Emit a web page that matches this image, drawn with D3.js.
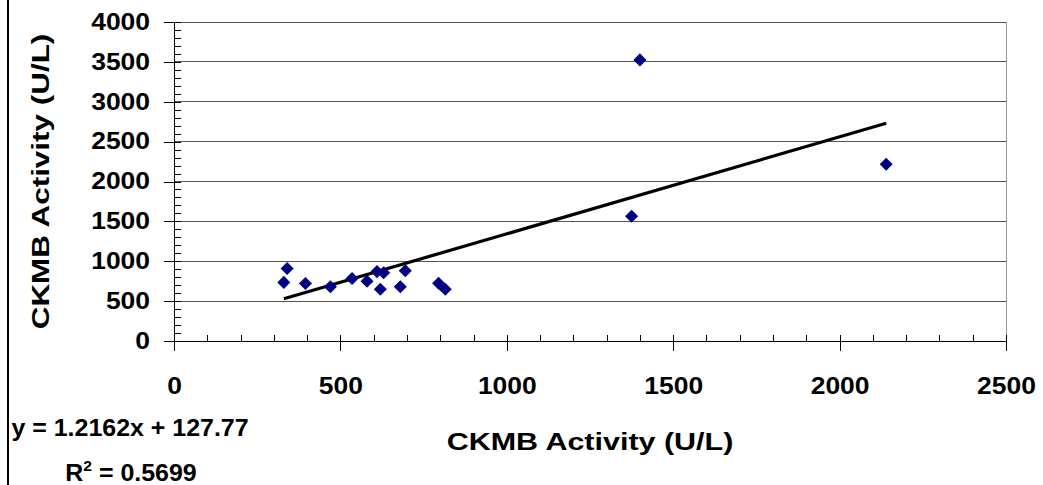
<!DOCTYPE html>
<html>
<head>
    <title></title>
    <style>
        body { margin: 0; background: #fff; }
        text { font-family: "Liberation Sans", Arial, sans-serif; font-weight: bold; fill: #000; }
    </style>
</head>
<body>
<script src="https://d3js.org/d3.v7.min.js"></script>
<script type="text/javascript">

    var ckmbX = [340, 330, 395, 470, 535, 580, 610, 630, 620, 680, 695, 795, 815, 1375, 1400, 2140];
    var ckmbY = [910, 735, 720, 680, 785, 750, 870, 855, 650, 680, 880, 725, 650, 1565, 3525, 2215];
    var xTicks = [0, 500, 1000, 1500, 2000, 2500];
    var yTicks = [0, 500, 1000, 1500, 2000, 2500, 3000, 3500, 4000];
    var slope = 1.2162;
    var intercept = 127.77;
    var equationText = 'y = 1.2162x + 127.77';
    var r2Text = '0.5699';
    var axisTitle = 'CKMB Activity (U/L)';

    var widthCanvas = 1043;
    var heightCanvas = 485;

    var xScale = d3.scaleLinear()
                    .domain([0, 2500])
                    .range([174, 1006]);

    var yScale = d3.scaleLinear()
                    .domain([0, 4000])
                    .range([341, 22]);

    var canvas = d3.select('body')
                    .append('svg')
                        .attr('width', widthCanvas)
                        .attr('height', heightCanvas);

    // left frame edge
    canvas.append('line')
            .attr('x1', 8).attr('x2', 8)
            .attr('y1', 0).attr('y2', heightCanvas)
            .attr('stroke', '#000')
            .attr('stroke-width', 2);

    // gridlines
    canvas.selectAll('.grid')
            .data(yTicks.filter(function(d) { return d > 0; }))
            .enter()
            .append('line')
                .attr('class', 'grid')
                .attr('x1', xScale(0))
                .attr('x2', xScale(2500))
                .attr('y1', function(d) { return yScale(d); })
                .attr('y2', function(d) { return yScale(d); })
                .attr('stroke', '#555')
                .attr('stroke-width', 1)
                .attr('shape-rendering', 'crispEdges');

    canvas.append('line')
            .attr('x1', xScale(2500)).attr('x2', xScale(2500))
            .attr('y1', yScale(4000)).attr('y2', yScale(0))
            .attr('stroke', '#999')
            .attr('shape-rendering', 'crispEdges');

    // minor ticks
    canvas.append('g')
            .attr('transform', 'translate(' + xScale(0) + ',0)')
            .call(d3.axisLeft(yScale).tickValues(d3.range(0, 4001, 100)).tickSize(-7).tickFormat(''))
            .call(function(g) { g.select('.domain').remove(); })
            .attr('shape-rendering', 'crispEdges');

    canvas.append('g')
            .attr('transform', 'translate(0,' + yScale(0) + ')')
            .call(d3.axisBottom(xScale).tickValues(d3.range(0, 2501, 100)).tickSize(-6).tickFormat(''))
            .call(function(g) { g.select('.domain').remove(); })
            .attr('shape-rendering', 'crispEdges');

    // major axes
    var tickScale = 1.15;

    var yAxis = canvas.append('g')
                    .attr('transform', 'translate(' + xScale(0) + ',0)')
                    .call(d3.axisLeft(yScale).tickValues(yTicks).tickFormat(d3.format('d'))
                            .tickSizeInner(10).tickSizeOuter(0).tickPadding(14))
                    .attr('font-size', null)
                    .attr('font-family', null);
    yAxis.selectAll('path, line').attr('stroke', '#000').attr('shape-rendering', 'crispEdges');
    yAxis.selectAll('text')
            .style('font-size', '23px')
            .attr('x', -24 / tickScale)
            .attr('transform', 'scale(' + tickScale + ',1)');

    var xAxis = canvas.append('g')
                    .attr('transform', 'translate(0,' + yScale(0) + ')')
                    .call(d3.axisBottom(xScale).tickValues(xTicks).tickFormat(d3.format('d'))
                            .tickSizeInner(10).tickSizeOuter(0).tickPadding(27))
                    .attr('font-size', null)
                    .attr('font-family', null);
    xAxis.selectAll('path, line').attr('stroke', '#000').attr('shape-rendering', 'crispEdges');
    xAxis.selectAll('text')
            .style('font-size', '23px')
            .attr('transform', 'scale(' + tickScale + ',1)');

    // trend line
    var xMin = d3.min(ckmbX);
    var xMax = d3.max(ckmbX);
    canvas.append('line')
            .attr('x1', xScale(xMin))
            .attr('y1', yScale(slope * xMin + intercept))
            .attr('x2', xScale(xMax))
            .attr('y2', yScale(slope * xMax + intercept))
            .attr('stroke', '#000')
            .attr('stroke-width', 3.2);

    // points
    var diamond = d3.symbol().type(d3.symbolSquare).size(85);
    canvas.selectAll('.pt')
            .data(ckmbX)
            .enter()
            .append('path')
                .attr('class', 'pt')
                .attr('d', diamond)
                .attr('transform', function(d, i) {
                    return 'translate(' + xScale(d) + ',' + yScale(ckmbY[i]) + ') rotate(45)';
                })
                .attr('fill', '#000080');

    // titles
    canvas.append('text')
            .attr('transform', 'translate(' + ((xScale(0) + xScale(2500)) / 2) + ',450) scale(1.27,1)')
            .attr('text-anchor', 'middle')
            .style('font-size', '24px')
            .text(axisTitle);

    canvas.append('text')
            .attr('transform', 'translate(49,' + ((yScale(0) + yScale(4000)) / 2) + ') rotate(-90) scale(1.31,1)')
            .attr('text-anchor', 'middle')
            .style('font-size', '24px')
            .text(axisTitle);

    // regression label
    canvas.append('text')
            .attr('transform', 'translate(130,436) scale(1.04,1)')
            .attr('text-anchor', 'middle')
            .style('font-size', '24px')
            .text(equationText);

    var r2 = canvas.append('text')
            .attr('transform', 'translate(131,481) scale(1.04,1)')
            .attr('text-anchor', 'middle')
            .style('font-size', '24px');
    r2.append('tspan').text('R');
    r2.append('tspan').attr('dy', -10).style('font-size', '15px').text('2');
    r2.append('tspan').attr('dy', 10).text(' = ' + r2Text);

</script>
</body>
</html>
